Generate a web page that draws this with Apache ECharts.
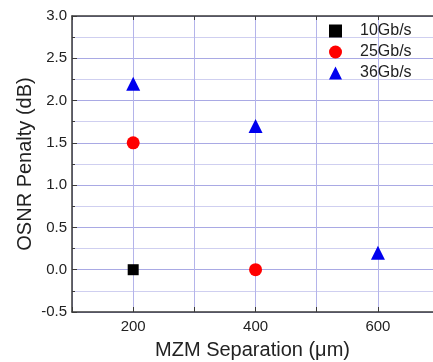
<!DOCTYPE html>
<html>
<head>
<meta charset="utf-8">
<script src="https://cdn.jsdelivr.net/npm/echarts@6/dist/echarts.min.js"></script>
<style>
  html, body { margin: 0; padding: 0; background: #fff; }
  #chart { width: 433px; height: 362px; }
</style>
</head>
<body>
<div id="chart"></div>
<script>
const seriesNames = ['10Gb/s', '25Gb/s', '36Gb/s']
const sep10 = [200]
const pen10 = [0]
const sep25 = [200, 400]
const pen25 = [1.5, 0]
const sep36 = [200, 400, 600]
const pen36 = [2.2, 1.7, 0.2]
const xTickLabels = [200, 400, 600]

const pairs = (xs, ys) => xs.map((x, i) => [x, ys[i]])
const font = 'Liberation Sans, Arial, sans-serif'
const axisColor = '#3a3a3a'

const chart = echarts.init(document.getElementById('chart'))
chart.setOption({
  animation: false,
  grid: { left: 72, top: 16, right: 0, bottom: 50, outerBoundsMode: 'none' },
  legend: {
    orient: 'vertical',
    left: 324,
    top: 18,
    itemGap: 5,
    itemWidth: 13,
    itemHeight: 13,
    textStyle: { fontFamily: font, fontSize: 16, color: '#222', padding: [0, 0, 0, 13] },
    data: [
      { name: seriesNames[0], icon: 'rect' },
      { name: seriesNames[1], icon: 'circle' },
      { name: seriesNames[2], icon: 'triangle' }
    ]
  },
  xAxis: [
    {
      type: 'value',
      min: 100,
      max: 690,
      interval: 100,
      name: 'MZM Separation (μm)',
      nameLocation: 'middle',
      nameGap: 28,
      nameTextStyle: { fontFamily: font, fontSize: 20, color: '#222' },
      axisLine: { onZero: false, lineStyle: { color: axisColor, width: 1.5 } },
      axisTick: { inside: true, length: 5, lineStyle: { color: axisColor } },
      axisLabel: {
        fontFamily: font, fontSize: 15, color: '#222', margin: 7,
        showMaxLabel: false,
        formatter: v => (xTickLabels.indexOf(v) >= 0 ? String(v) : '')
      },
      splitLine: { show: true, lineStyle: { color: '#b4b4ea', width: 1 } }
    },
    {
      type: 'value',
      position: 'top',
      min: 100,
      max: 690,
      interval: 100,
      axisLine: { onZero: false, lineStyle: { color: axisColor, width: 1.5 } },
      axisTick: { inside: true, length: 4, lineStyle: { color: axisColor } },
      axisLabel: { show: false },
      splitLine: { show: false }
    }
  ],
  yAxis: {
    type: 'value',
    min: -0.5,
    max: 3,
    interval: 0.5,
    name: 'OSNR Penalty (dB)',
    nameLocation: 'middle',
    nameGap: 37,
    nameMoveOverlap: false,
    nameTextStyle: { fontFamily: font, fontSize: 20, color: '#222' },
    axisLine: { show: true, onZero: false, lineStyle: { color: axisColor, width: 1.5 } },
    axisTick: { show: true, inside: true, length: 5, lineStyle: { color: axisColor } },
    minorTick: { show: true, splitNumber: 2, length: 3, lineStyle: { color: axisColor } },
    axisLabel: {
      fontFamily: font, fontSize: 15, color: '#222', margin: 5,
      formatter: v => v.toFixed(1)
    },
    splitLine: { show: true, lineStyle: { color: '#a9a9e4', width: 1 } },
    minorSplitLine: { show: true, lineStyle: { color: '#cfcff0', width: 1 } }
  },
  series: [
    {
      name: seriesNames[0], type: 'scatter', symbol: 'rect', symbolSize: 11,
      itemStyle: { color: '#000', opacity: 1 }, data: pairs(sep10, pen10)
    },
    {
      name: seriesNames[1], type: 'scatter', symbol: 'circle', symbolSize: 13,
      itemStyle: { color: '#ff0000', opacity: 1 }, data: pairs(sep25, pen25)
    },
    {
      name: seriesNames[2], type: 'scatter', symbol: 'triangle', symbolSize: 14,
      itemStyle: { color: '#0000ee', opacity: 1 }, data: pairs(sep36, pen36)
    }
  ]
})
</script>
</body>
</html>
